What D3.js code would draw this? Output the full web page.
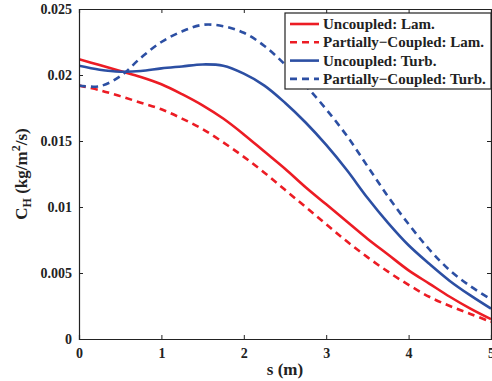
<!DOCTYPE html>
<html>
<head>
<meta charset="utf-8">
<script src="https://cdn.jsdelivr.net/npm/d3@7"></script>
<style>
  body { margin: 0; background: #fff; }
  svg text { font-family: "Liberation Serif", "Times New Roman", serif; font-weight: bold; fill: #222; }
</style>
</head>
<body>
<div id="chart"></div>
<script>
// s positions (m)
var sValues = [0, 0.25, 0.5, 0.75, 1, 1.25, 1.5, 1.75, 2, 2.25, 2.5, 2.75, 3, 3.25, 3.5, 3.75, 4, 4.25, 4.5, 4.75, 5];

var uncoupledLam  = [0.0212, 0.02075, 0.0203, 0.01985, 0.0193, 0.01855, 0.0177, 0.0167, 0.0155, 0.0142, 0.0129, 0.0115, 0.0102, 0.0089, 0.0076, 0.0064, 0.0052, 0.0042, 0.0032, 0.0023, 0.0015];
var partialLam    = [0.0192, 0.01885, 0.0184, 0.0179, 0.0174, 0.0167, 0.0159, 0.0149, 0.0138, 0.0126, 0.0113, 0.0100, 0.0087, 0.0074, 0.0062, 0.0051, 0.0041, 0.0032, 0.0025, 0.0019, 0.0013];
var uncoupledTurb = [0.0207, 0.0204, 0.02025, 0.0203, 0.0205, 0.02065, 0.0208, 0.0207, 0.0201, 0.0192, 0.0179, 0.0164, 0.0147, 0.0128, 0.0107, 0.0088, 0.0071, 0.0057, 0.0044, 0.0033, 0.0023];
var partialTurb   = [0.0192, 0.01915, 0.0199, 0.0213, 0.0225, 0.0233, 0.0238, 0.0237, 0.0232, 0.0222, 0.0208, 0.0192, 0.0174, 0.0154, 0.0131, 0.0108, 0.0087, 0.0068, 0.0052, 0.0040, 0.0030];

var seriesNames = ['Uncoupled: Lam.', 'Partially\u2212Coupled: Lam.', 'Uncoupled: Turb.', 'Partially\u2212Coupled: Turb.'];
var xTicks = [0, 1, 2, 3, 4, 5];
var yTicks = [0, 0.005, 0.01, 0.015, 0.02, 0.025];
var yTickLabels = ['0', '0.005', '0.01', '0.015', '0.02', '0.025'];

var red = '#ec1c24', blue = '#2c4fa3';
var series = [
  { name: seriesNames[0], values: uncoupledLam, color: red, dash: null },
  { name: seriesNames[1], values: partialLam, color: red, dash: '7,5' },
  { name: seriesNames[2], values: uncoupledTurb, color: blue, dash: null },
  { name: seriesNames[3], values: partialTurb, color: blue, dash: '7,5' }
];

var width = 492, height = 381;
var margin = { top: 9, right: 1, bottom: 42, left: 79 };
var w = width - margin.left - margin.right;
var h = height - margin.top - margin.bottom;

var svg = d3.select('#chart').append('svg')
  .attr('width', width)
  .attr('height', height);

var g = svg.append('g')
  .attr('transform', 'translate(' + margin.left + ',' + margin.top + ')');

var x = d3.scaleLinear().domain([0, 5]).range([0, w]);
var y = d3.scaleLinear().domain([0, 0.025]).range([h, 0]);

// clip so curves stay inside the box
g.append('clipPath').attr('id', 'clip')
  .append('rect').attr('width', w).attr('height', h);

var line = d3.line()
  .x(function (d) { return x(d[0]); })
  .y(function (d) { return y(d[1]); })
  .curve(d3.curveCatmullRom.alpha(0.5));

g.append('g').attr('clip-path', 'url(#clip)')
  .selectAll('path')
  .data(series)
  .enter()
  .append('path')
  .attr('d', function (d) { return line(d.values.map(function (v, i) { return [sValues[i], v]; })); })
  .attr('fill', 'none')
  .attr('stroke', function (d) { return d.color; })
  .attr('stroke-width', 2.6)
  .attr('stroke-dasharray', function (d) { return d.dash; });

// axes (ticks inward, mirrored on top/right)
var xAxis = d3.axisBottom(x).tickValues(xTicks).tickSize(-4).tickPadding(9).tickFormat(d3.format('d'));
var yAxis = d3.axisLeft(y).tickValues(yTicks).tickSize(-4).tickPadding(7)
  .tickFormat(function (d, i) { return yTickLabels[i]; });

g.append('g').attr('transform', 'translate(0,' + h + ')').call(xAxis);
g.append('g').call(yAxis);
g.append('g').call(d3.axisTop(x).tickValues(xTicks).tickSize(-4).tickFormat(''));
g.append('g').attr('transform', 'translate(' + w + ',0)')
  .call(d3.axisRight(y).tickValues(yTicks).tickSize(-4).tickFormat(''));

g.selectAll('.domain').attr('stroke', '#222').attr('stroke-width', 1.2);
g.selectAll('.tick line').attr('stroke', '#222');
g.selectAll('.tick text')
  .style('font-size', '14px')
  .style('font-family', '"Liberation Serif", serif')
  .style('font-weight', 'bold')
  .attr('fill', '#222');

// axis titles
svg.append('text')
  .attr('x', margin.left + w / 2)
  .attr('y', 375)
  .attr('text-anchor', 'middle')
  .style('font-size', '17px')
  .text('s (m)');

var yl = svg.append('text')
  .attr('transform', 'translate(27,' + (margin.top + h / 2) + ') rotate(-90)')
  .attr('text-anchor', 'middle')
  .style('font-size', '17px');
yl.append('tspan').text('C');
yl.append('tspan').attr('dy', 4).style('font-size', '12px').text('H');
yl.append('tspan').attr('dy', -4).text(' (kg/m');
yl.append('tspan').attr('dy', -7).style('font-size', '12px').text('2');
yl.append('tspan').attr('dy', 7).text('/s)');

// legend
var legendW = 206, legendH = 76;
var legend = g.append('g')
  .attr('transform', 'translate(' + (w - legendW) + ',4)');

legend.append('rect')
  .attr('width', legendW)
  .attr('height', legendH)
  .attr('fill', '#fff')
  .attr('stroke', '#222')
  .attr('stroke-width', 1.2);

var item = legend.selectAll('.legend')
  .data(series)
  .enter()
  .append('g')
  .attr('class', 'legend')
  .attr('transform', function (d, i) { return 'translate(0,' + (11 + i * 18.3) + ')'; });

item.append('line')
  .attr('x1', 5).attr('x2', 34)
  .attr('stroke', function (d) { return d.color; })
  .attr('stroke-width', 2.6)
  .attr('stroke-dasharray', function (d) { return d.dash; });

item.append('text')
  .attr('x', 38)
  .attr('y', 5)
  .style('font-size', '15px')
  .text(function (d) { return d.name; });
</script>
</body>
</html>
